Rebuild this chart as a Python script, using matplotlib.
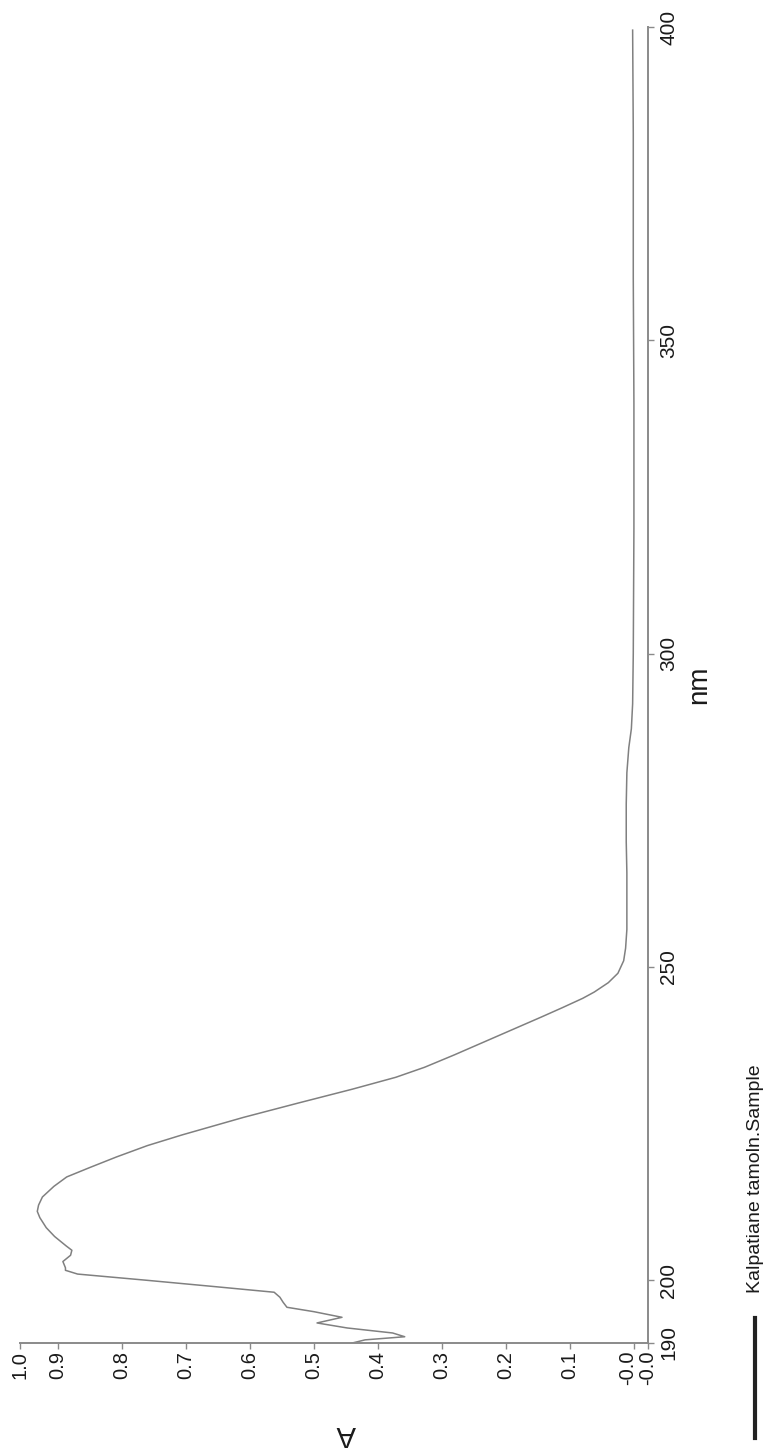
import matplotlib
matplotlib.use("Agg")
import matplotlib.pyplot as plt
from matplotlib.lines import Line2D
from matplotlib.transforms import ScaledTranslation

plt.rcParams['font.family'] = ['Liberation Sans', 'DejaVu Sans']

# spectrum (wavelength in nm, absorbance)
wavelength = [190.0, 190.5, 191.0, 191.6, 192.4, 193.2, 194.1, 195.0, 195.7, 196.5,
              197.3, 198.1, 199.0, 200.0, 201.0, 201.6, 202.0, 203.0, 204.0, 204.8,
              205.5, 207.0, 208.4, 210.0, 211.0, 212.0, 213.3, 215.0, 216.5, 218.0,
              219.7, 221.5, 223.2, 226.0, 228.3, 230.5, 232.4, 234.0, 236.0, 238.0,
              240.0, 242.0, 243.5, 245.0, 246.0, 247.5, 249.0, 251.0, 253.0, 256.0,
              260.0, 265.0, 270.0, 276.0, 281.0, 285.0, 288.0, 292.0, 300.0, 320.0,
              340.0, 360.0, 383.0, 399.5]
absorbance = [0.44, 0.42, 0.358, 0.377, 0.448, 0.495, 0.456, 0.500, 0.542, 0.548,
              0.553, 0.562, 0.655, 0.760, 0.869, 0.888, 0.888, 0.892, 0.880, 0.878,
              0.887, 0.905, 0.918, 0.928, 0.932, 0.930, 0.924, 0.906, 0.886, 0.850,
              0.808, 0.760, 0.706, 0.610, 0.524, 0.440, 0.372, 0.327, 0.280, 0.235,
              0.190, 0.145, 0.112, 0.080, 0.062, 0.040, 0.025, 0.016, 0.013, 0.011,
              0.011, 0.011, 0.012, 0.012, 0.011, 0.008, 0.004, 0.002, 0.001, 0.000,
              0.000, 0.001, 0.001, 0.002]

a_ticks = [0.959, 0.9, 0.8, 0.7, 0.6, 0.5, 0.4, 0.3, 0.2, 0.1, 0.0, -0.022]
a_labels = ['1.0', '0.9', '0.8', '0.7', '0.6', '0.5', '0.4', '0.3', '0.2', '0.1', '-0.0', '-0.0']
nm_ticks = [190, 200, 250, 300, 350, 400]
legend_label = 'Kalpatiane tamoln.Sample'

W, H = 768, 1450
fig = plt.figure(figsize=(W / 100, H / 100), dpi=100)
fig.patch.set_facecolor('white')

# the page is scanned sideways: absorbance runs right-to-left, wavelength upward
ax = fig.add_axes([20 / W, 107 / H, 628 / W, 1316 / H])
ax.plot(absorbance, wavelength, color='#808080', lw=1.1)

ax.set_xlim(a_ticks[0], a_ticks[-1])
ax.set_ylim(190, 400)

axis_col = '#8a8a8a'
text_col = '#1a1a1a'
for side in ['left', 'top']:
    ax.spines[side].set_visible(False)
for side in ['bottom', 'right']:
    ax.spines[side].set_color(axis_col)
    ax.spines[side].set_linewidth(1.4)

ax.yaxis.tick_right()
ax.set_xticks(a_ticks)
ax.set_xticklabels(a_labels, rotation=90, fontsize=14.5, color=text_col)
ax.set_yticks(nm_ticks)
ax.set_yticklabels([str(t) for t in nm_ticks], rotation=90, fontsize=15,
                   color=text_col, va='center')
ax.tick_params(axis='x', length=4.5, width=1, color=axis_col, pad=1)
ax.tick_params(axis='y', length=4, width=1, color=axis_col, pad=4)

# the two "-0.0" labels sit side by side; nudge the first one left
lab = ax.xaxis.get_major_ticks()[10].label1
lab.set_transform(lab.get_transform() + ScaledTranslation(-6 / 100, 0, fig.dpi_scale_trans))

ax.set_xlabel('A', rotation=180, fontsize=21, color=text_col, va='center', ha='center')
ax.xaxis.set_label_coords(0.52, -0.069)
ax.yaxis.set_label_position('right')
ax.set_ylabel('nm', rotation=90, fontsize=20, color=text_col, labelpad=6)

# legend, turned with the page
fig.add_artist(Line2D([755 / W, 755 / W], [(H - 1438) / H, (H - 1318) / H],
                      color='#222222', lw=3))
fig.text(755 / W, (H - 1179) / H, legend_label, rotation=90, fontsize=14,
         color=text_col, ha='center', va='center')

fig.savefig('out.png', dpi=100, facecolor='white')
